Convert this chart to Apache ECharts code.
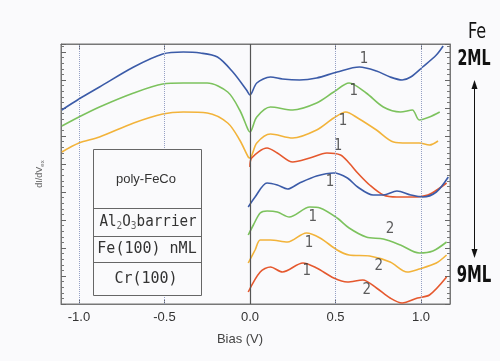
<!DOCTYPE html>
<html>
<head>
<meta charset="utf-8">
<script src="https://cdn.jsdelivr.net/npm/echarts@6.0.0/dist/echarts.min.js"></script>
<style>
  html, body { margin: 0; padding: 0; background: #fafafc; }
  #chart { width: 500px; height: 361px; }
</style>
</head>
<body>
<div id="chart"></div>
<script>
// bias (V) ticks shown under the plot
const biasTicks = [-1.0, -0.5, 0.0, 0.5, 1.0];

// dI/dV spectra, [bias (V), dI/dV (arb., offset)]
const fe2ML = [[-1.10,194],[-1.00,205],[-0.88,217],[-0.68,237],[-0.51,250],[-0.39,252],[-0.29,251],[-0.19,247],[-0.10,232],[-0.02,214],[0,209],[0.04,221],[0.12,227],[0.19,225],[0.29,224],[0.39,226],[0.51,232],[0.64,237],[0.74,233],[0.82,227],[0.89,224],[0.94,227],[1.01,237],[1.09,249],[1.13,258]];
const fe3ML = [[-1.10,178],[-1.00,187],[-0.88,197],[-0.68,211],[-0.51,220],[-0.39,221],[-0.25,221],[-0.13,212],[-0.06,194],[-0.01,174],[0,172],[0.04,187],[0.12,197],[0.25,194],[0.39,201],[0.49,212],[0.58,221],[0.68,211],[0.78,197],[0.88,192],[0.95,194],[0.99,184],[1.05,187],[1.11,192]];
const fe4ML = [[-1.10,152],[-1.00,161],[-0.88,167],[-0.68,181],[-0.51,190],[-0.39,192],[-0.25,191],[-0.13,181],[-0.06,164],[-0.01,147],[0,146],[0.04,161],[0.12,170],[0.25,166],[0.39,174],[0.49,186],[0.56,192],[0.63,186],[0.74,174],[0.84,162],[0.92,161],[0.99,161],[1.05,159],[1.10,163]];
const fe5ML = [[0,137],[0.01,146],[0.10,156],[0.16,151],[0.25,142],[0.35,146],[0.45,151],[0.53,149],[0.58,141],[0.63,131],[0.70,119],[0.78,109],[0.86,107],[0.95,107],[1.04,109],[1.11,116],[1.15,121]];
const fe6ML = [[-0.01,97],[0.03,107],[0.10,121],[0.16,119],[0.22,115],[0.29,121],[0.39,128],[0.49,131],[0.57,126],[0.63,117],[0.72,109],[0.78,109],[0.86,113],[0.94,109],[1.01,107],[1.09,112],[1.16,127]];
const fe7ML = [[-0.01,69],[0.02,79],[0.06,91],[0.10,93],[0.16,92],[0.23,87],[0.35,97],[0.41,96],[0.51,86],[0.58,76],[0.68,67],[0.78,65],[0.88,59],[0.99,51],[1.07,53],[1.15,62]];
const fe8ML = [[-0.01,41],[0.03,54],[0.06,64],[0.12,64],[0.22,62],[0.33,71],[0.41,66],[0.51,54],[0.58,49],[0.70,48],[0.82,42],[0.92,32],[0.99,35],[1.09,41],[1.15,49]];
const fe9ML = [[-0.01,12],[0.06,32],[0.12,37],[0.19,32],[0.31,41],[0.39,36],[0.49,26],[0.57,22],[0.66,24],[0.74,16],[0.82,6],[0.89,1],[0.98,6],[1.05,9],[1.15,27]];

// peak markers "1" / "2"
const peakBias = [0.667, 0.608, 0.544, 0.515, 0.468, 0.368, 0.345, 0.333, 0.819, 0.754, 0.684];
const peakLevel = [245, 213, 183, 158, 122, 87, 61, 33, 75, 38, 14];
const peakName = ['1', '1', '1', '1', '1', '1', '1', '1', '2', '2', '2'];

const spectra = [
  { name: '2ML', data: fe2ML, color: '#3b5ba8' },
  { name: '3ML', data: fe3ML, color: '#7cc25d' },
  { name: '4ML', data: fe4ML, color: '#f2b33a' },
  { name: '5ML', data: fe5ML, color: '#e5582e' },
  { name: '6ML', data: fe6ML, color: '#3b5ba8' },
  { name: '7ML', data: fe7ML, color: '#7cc25d' },
  { name: '8ML', data: fe8ML, color: '#f2b33a' },
  { name: '9ML', data: fe9ML, color: '#e5582e' }
];

const bg = '#fafafc';
const narrow = '"DejaVu Sans Condensed", sans-serif';
const mono = '"DejaVu Sans Mono", monospace';

const chart = echarts.init(document.getElementById('chart'));

const series = spectra.map((s, i) => ({
  name: s.name,
  type: 'line',
  data: s.data,
  showSymbol: false,
  smooth: 0.3,
  lineStyle: { color: s.color, width: 1.6 },
  itemStyle: { color: s.color },
  z: 3,
  markLine: i === 0 ? {
    silent: true,
    symbol: 'none',
    label: { show: false },
    lineStyle: { color: '#95a0c4', type: 'dotted', width: 1 },
    data: biasTicks.map(v => v === 0
      ? { xAxis: v, lineStyle: { color: '#555', type: 'solid', width: 1.2 } }
      : { xAxis: v })
  } : undefined
}));

series.push({
  type: 'scatter',
  symbolSize: 1,
  itemStyle: { color: 'rgba(0,0,0,0)' },
  data: peakBias.map((b, i) => [b, peakLevel[i], peakName[i]]),
  label: {
    show: true,
    position: 'inside',
    formatter: p => p.value[2],
    fontFamily: narrow,
    fontSize: 15,
    color: '#333'
  },
  z: 4
});

const tickCommon = { inside: true, length: 5, lineStyle: { color: '#666' } };

const option = {
  backgroundColor: bg,
  animation: false,
  grid: {
    left: 61, right: 50, top: 44, bottom: 57,
    show: true, borderColor: '#777', borderWidth: 1, backgroundColor: bg
  },
  xAxis: [
    {
      type: 'value', min: -1.105, max: 1.17,
      axisLine: { onZero: false, lineStyle: { color: '#777' } },
      axisTick: Object.assign({ customValues: biasTicks }, tickCommon),
      axisLabel: {
        customValues: biasTicks,
        formatter: v => v.toFixed(1),
        color: '#333', fontSize: 13, margin: 7,
        fontFamily: 'Liberation Sans, Arial, sans-serif'
      },
      splitLine: { show: false }
    },
    {
      type: 'value', min: -1.105, max: 1.17, position: 'top',
      axisLine: { onZero: false, lineStyle: { color: '#777' } },
      axisTick: Object.assign({ customValues: biasTicks }, tickCommon),
      axisLabel: { show: false },
      splitLine: { show: false }
    }
  ],
  yAxis: [
    {
      type: 'value', min: 0, max: 260, interval: 28,
      name: '{a|dI/dV}{s|ex}',
      nameLocation: 'middle', nameGap: 16, nameRotate: 90,
      nameTextStyle: {
        rich: {
          a: { fontSize: 9, color: '#666', fontFamily: 'Liberation Sans, sans-serif' },
          s: { fontSize: 6, color: '#666', verticalAlign: 'bottom', padding: [4, 0, 0, 0] }
        }
      },
      axisLine: { onZero: false, lineStyle: { color: '#777' } },
      axisTick: tickCommon,
      minorTick: { show: true, splitNumber: 5, length: 3, lineStyle: { color: '#777' } },
      axisLabel: { show: false },
      splitLine: { show: false }
    },
    {
      type: 'value', min: 0, max: 260, interval: 28, position: 'right',
      axisLine: { onZero: false, lineStyle: { color: '#777' } },
      axisTick: tickCommon,
      minorTick: { show: true, splitNumber: 5, length: 3, lineStyle: { color: '#777' } },
      axisLabel: { show: false },
      splitLine: { show: false }
    }
  ],
  graphic: [
    // layered sample structure box
    { type: 'rect', z: 100, shape: { x: 93.5, y: 149.5, width: 108, height: 146 },
      style: { fill: bg, stroke: '#666', lineWidth: 1 } },
    { type: 'line', z: 101, shape: { x1: 93.5, y1: 208.5, x2: 201.5, y2: 208.5 }, style: { stroke: '#666' } },
    { type: 'line', z: 101, shape: { x1: 93.5, y1: 236.5, x2: 201.5, y2: 236.5 }, style: { stroke: '#666' } },
    { type: 'line', z: 101, shape: { x1: 93.5, y1: 262.5, x2: 201.5, y2: 262.5 }, style: { stroke: '#666' } },
    { type: 'text', z: 102, x: 146, y: 179,
      style: { text: 'poly-FeCo', fontSize: 13, fill: '#333', align: 'center', verticalAlign: 'middle',
               fontFamily: 'Liberation Sans, sans-serif' } },
    { type: 'text', z: 102, x: 148, y: 222, scaleX: 0.95,
      style: { text: '{t|Al}{b|2}{t|O}{b|3}{t|barrier}', align: 'center', verticalAlign: 'middle',
               rich: {
                 t: { fontSize: 15, fill: '#333', fontFamily: mono },
                 b: { fontSize: 10, fill: '#666', fontFamily: mono, verticalAlign: 'bottom', padding: [8, 0, 0, 0] }
               } } },
    { type: 'text', z: 102, x: 147, y: 249,
      style: { text: 'Fe(100) nML', fontSize: 15, fill: '#333', align: 'center', verticalAlign: 'middle', fontFamily: mono } },
    { type: 'text', z: 102, x: 146, y: 279,
      style: { text: 'Cr(100)', fontSize: 15, fill: '#333', align: 'center', verticalAlign: 'middle', fontFamily: mono } },
    // axis title
    { type: 'text', z: 102, x: 240, y: 339,
      style: { text: 'Bias (V)', fontSize: 13, fill: '#444', align: 'center', verticalAlign: 'middle',
               fontFamily: 'Liberation Sans, sans-serif' } },
    // thickness annotation on the right
    { type: 'text', z: 102, x: 477, y: 33, scaleX: 0.85,
      style: { text: 'Fe', fontSize: 21, fill: '#111', align: 'center', verticalAlign: 'middle', fontFamily: narrow } },
    { type: 'text', z: 102, x: 474, y: 59, scaleX: 0.72,
      style: { text: '2ML', fontSize: 22, fontWeight: 'bold', fill: '#111', align: 'center', verticalAlign: 'middle', fontFamily: narrow } },
    { type: 'text', z: 102, x: 474, y: 276, scaleX: 0.72,
      style: { text: '9ML', fontSize: 23, fontWeight: 'bold', fill: '#111', align: 'center', verticalAlign: 'middle', fontFamily: narrow } },
    { type: 'line', z: 102, shape: { x1: 474.5, y1: 86, x2: 474.5, y2: 252 }, style: { stroke: '#111', lineWidth: 1 } },
    { type: 'polygon', z: 102, shape: { points: [[474.5, 80], [471.5, 89], [477.5, 89]] }, style: { fill: '#111' } },
    { type: 'polygon', z: 102, shape: { points: [[474.5, 258], [471.5, 249], [477.5, 249]] }, style: { fill: '#111' } }
  ],
  series: series
};

chart.setOption(option);
</script>
</body>
</html>
